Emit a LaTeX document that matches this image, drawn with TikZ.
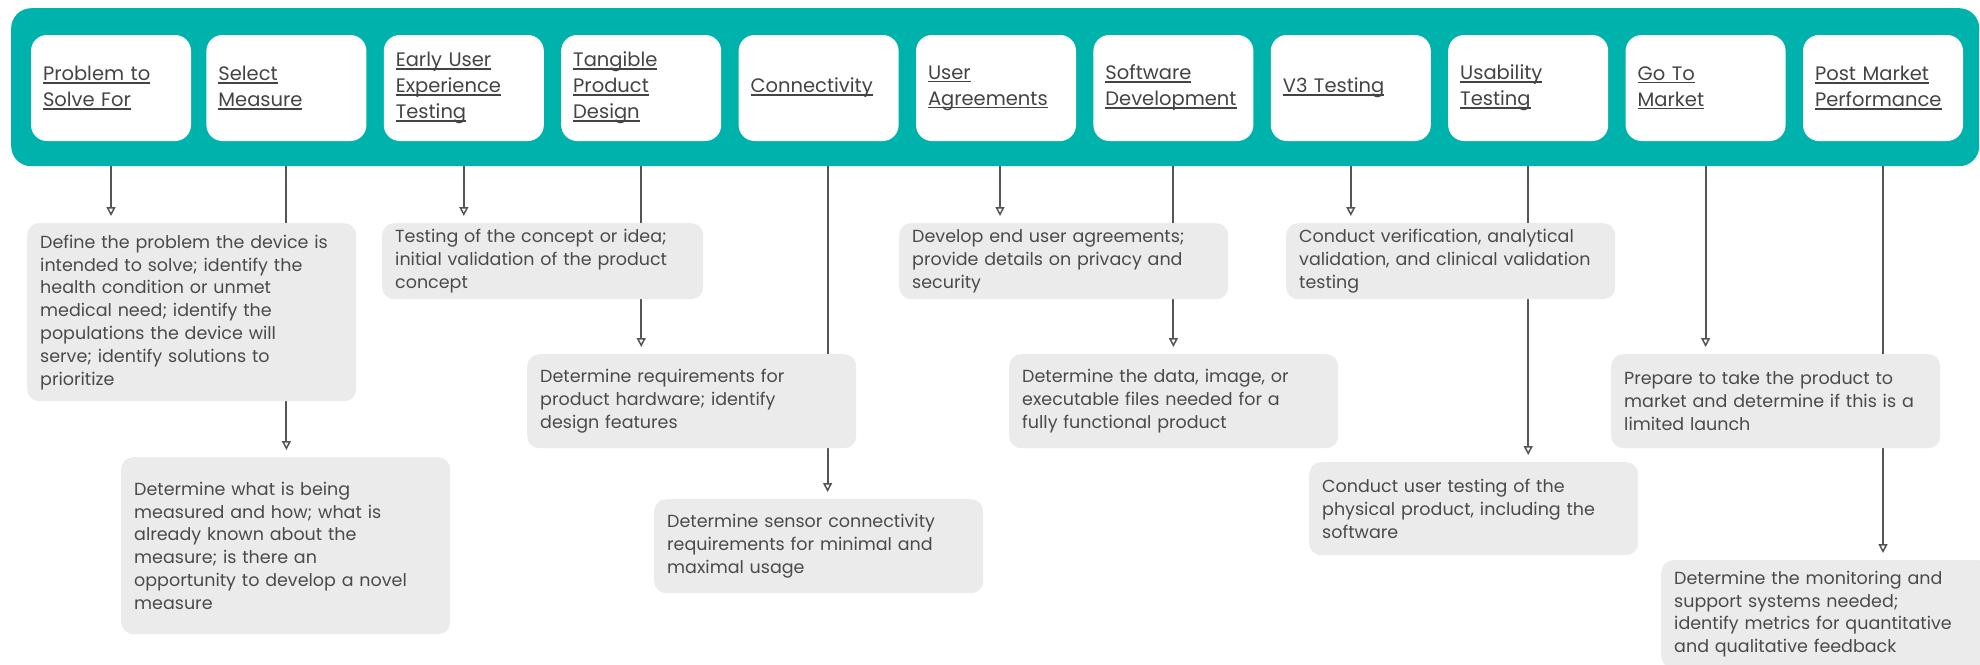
\documentclass[tikz,border=0pt]{standalone}
\usepackage{fontspec}
\setmainfont{Poppins}
\usetikzlibrary{arrows.meta,calc}

\definecolor{barteal}{HTML}{00B2AC}
\definecolor{cardgray}{HTML}{EBEBEB}
\definecolor{inkgray}{HTML}{4A4A4A}
\definecolor{headink}{HTML}{444444}
\definecolor{linegray}{HTML}{555555}

\pgfdeclarelayer{links}
\pgfsetlayers{links,main}

% underlined header line
\newcommand\hul[1]{\leavevmode\setbox0\hbox{#1}\rlap{\rule[-3pt]{\wd0}{1.6pt}}\box0}

\tikzset{
  x=1pt, y=-1pt,
  band/.style={fill=barteal, rounded corners=20pt, anchor=north west,
    inner sep=0pt, minimum width=1968pt, minimum height=158pt},
  stage/.style={fill=white, rounded corners=16pt, minimum height=106pt,
    text width=136pt, inner xsep=12pt, inner ysep=0pt, align=left,
    font=\fontsize{19.5}{26}\selectfont, text=headink},
  note/.style={fill=cardgray, rounded corners=12pt, anchor=north west,
    text width=303pt, inner xsep=13pt, inner ysep=0pt, align=left,
    font=\fontsize{17.5}{22.8}\selectfont, text=inkgray},
  link/.style={draw=linegray, line width=2pt,
    -{Triangle[length=9pt,width=9pt,fill=white,line width=1.5pt]},
    shorten >=7pt},
}

\begin{document}
\begin{tikzpicture}
\useasboundingbox (0,0) rectangle (1980,664);
\clip (0,0) rectangle (1980,664);

% teal band holding the stages
\node[band] (bar) at (11,8) {};

% stage headers
\path (111,88) node[stage] (h1) {\hul{Problem to}\\\hul{Solve For}}
      (286.4,88) node[stage] (h2) {\hul{Select}\\\hul{Measure}}
      (463.8,88) node[stage] (h3) {\hul{Early User}\\\hul{Experience}\\\hul{Testing}}
      (641.2,88) node[stage] (h4) {\hul{Tangible}\\\hul{Product}\\\hul{Design}}
      (818.6,88) node[stage] (h5) {\hul{Connectivity}}
      (996,88) node[stage] (h6) {\hul{User}\\\hul{Agreements}}
      (1173.4,88) node[stage] (h7) {\hul{Software}\\\hul{Development}}
      (1350.8,88) node[stage] (h8) {\hul{V3 Testing}}
      (1528.2,88) node[stage] (h9) {\hul{Usability}\\\hul{Testing}}
      (1705.6,88) node[stage] (h10) {\hul{Go To}\\\hul{Market}}
      (1883,88) node[stage] (h11) {\hul{Post Market}\\\hul{Performance}};

% description cards
\node[note, minimum height=178pt] (g1) at (27,223) {Define the problem the device is\\intended to solve; identify the\\health condition or unmet\\medical need; identify the\\populations the device will\\serve; identify solutions to\\prioritize};
\node[note, minimum height=177pt] (g2) at (121,457) {Determine what is being\\measured and how; what is\\already known about the\\measure; is there an\\opportunity to develop a novel\\measure};
\node[note, minimum height=76pt, text width=295pt] (g3) at (382,223) {Testing of the concept or idea;\\initial validation of the product\\concept};
\node[note, minimum height=94pt] (g4) at (527,354) {Determine requirements for\\product hardware; identify\\design features};
\node[note, minimum height=94pt] (g5) at (654,499) {Determine sensor connectivity\\requirements for minimal and\\maximal usage};
\node[note, minimum height=76pt] (g6) at (899,223) {Develop end user agreements;\\provide details on privacy and\\security};
\node[note, minimum height=94pt] (g7) at (1009,354) {Determine the data, image, or\\executable files needed for a\\fully functional product};
\node[note, minimum height=76pt] (g8) at (1286,223) {Conduct verification, analytical\\validation, and clinical validation\\testing};
\node[note, minimum height=93pt] (g9) at (1309,462) {Conduct user testing of the\\physical product, including the\\software};
\node[note, minimum height=94pt] (g10) at (1611,354) {Prepare to take the product to\\market and determine if this is a\\limited launch};
\node[note, minimum height=108pt] (g11) at (1661,560) {Determine the monitoring and\\support systems needed;\\identify metrics for quantitative\\and qualitative feedback};

% links from each stage down to its card, kept behind the cards
\begin{pgfonlayer}{links}
\foreach \i in {1,2,3,4,7,8,9,10,11}
  \draw[link] (h\i.south |- bar.south) -- (h\i.south |- g\i.north);
\draw[link] ($(h5.south |- bar.south)+(9,0)$) -- ($(h5.south |- g5.north)+(9,0)$);
\draw[link] ($(h6.south |- bar.south)+(4,0)$) -- ($(h6.south |- g6.north)+(4,0)$);
\end{pgfonlayer}
\end{tikzpicture}
\end{document}
